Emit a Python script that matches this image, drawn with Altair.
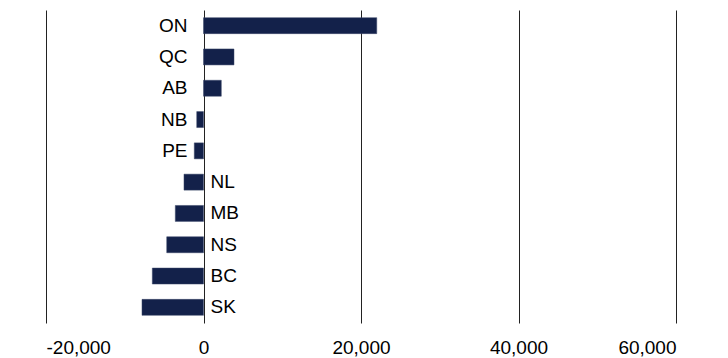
import altair as alt
import pandas as pd

provinces = ["ON", "QC", "AB", "NB", "PE", "NL", "MB", "NS", "BC", "SK"]
values = [22000, 3870, 2260, -860, -1170, -2480, -3580, -4670, -6500, -7810]
label_side = ["left", "left", "left", "left", "left", "right", "right", "right", "right", "right"]
x_ticks = [-20000, 0, 20000, 40000, 60000]

df = pd.DataFrame({"prov": provinces, "value": values, "side": label_side})

FONT = "Liberation Sans"
FS = 19

y_enc = alt.Y("prov:N", sort=provinces, axis=None,
              scale=alt.Scale(paddingInner=0.49, paddingOuter=0.245))
x_scale = alt.Scale(domain=[-20000, 60000], nice=False, zero=False)

bars = alt.Chart(df).mark_bar(color="#13214a", stroke="#3a4668", strokeWidth=0.5).encode(
    x=alt.X("value:Q", scale=x_scale,
            axis=alt.Axis(values=x_ticks, format=",.0f", title=None, domain=False,
                          labelExpr="replace(datum.label, '\u2212', '-')",
                          ticks=False, grid=True, gridColor="#222222", gridWidth=1,
                          labelFont=FONT, labelFontSize=FS, labelColor="#000000",
                          labelPadding=15)),
    y=y_enc,
)

left_labels = alt.Chart(df[df["side"] == "left"]).mark_text(
    align="right", baseline="middle", dx=-16, font=FONT, fontSize=FS, color="#000000"
).encode(x=alt.datum(0), y=y_enc, text="prov:N")

right_labels = alt.Chart(df[df["side"] == "right"]).mark_text(
    align="left", baseline="middle", dx=7, font=FONT, fontSize=FS, color="#000000"
).encode(x=alt.datum(0), y=y_enc, text="prov:N")

chart = (bars + left_labels + right_labels).properties(
    width=630, height=313,
    autosize=alt.AutoSizeParams(type="none"),
    padding={"left": 38, "top": 2, "right": 36, "bottom": 34},
).configure_view(stroke=None)

chart.save("out.html", embed_options={"renderer": "svg", "actions": False})
